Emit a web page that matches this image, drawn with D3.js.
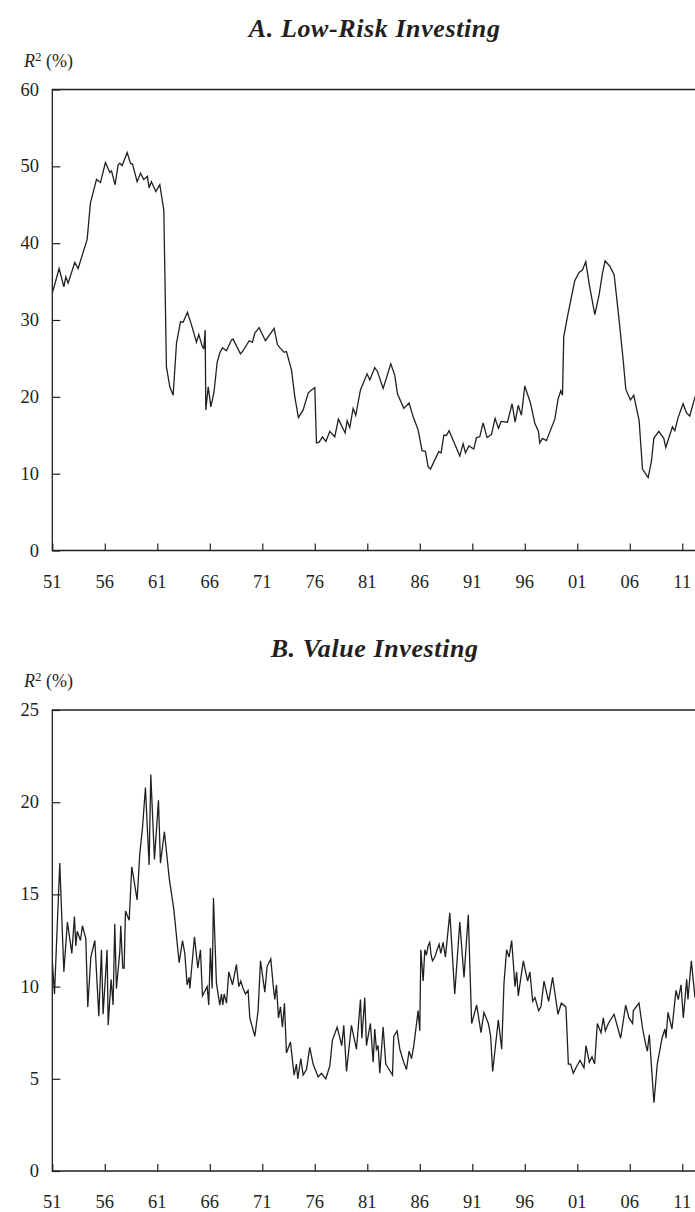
<!DOCTYPE html>
<html>
<head>
<meta charset="utf-8">
<script src="https://cdn.jsdelivr.net/npm/d3@7"></script>
<style>
  html, body { margin: 0; padding: 0; background: #fff; }
  svg { display: block; }
  text { font-family: "Liberation Serif", "DejaVu Serif", serif; fill: #231f20; }
</style>
</head>
<body>
<svg id="chart" width="695" height="1212"></svg>
<script>
// Rolling R² of each strategy's returns, by year (decimal years)
const xTickYears = [1951, 1956, 1961, 1966, 1971, 1976, 1981, 1986, 1991, 1996, 2001, 2006, 2011];

const lowRiskYears = [
  1951.0, 1951.65, 1952.1, 1952.29, 1952.51, 1953.14, 1953.46, 1954.32, 1954.63, 1955.21,
  1955.59, 1956.06, 1956.48, 1956.64, 1956.98, 1957.27, 1957.43, 1957.65, 1958.13, 1958.44,
  1958.64, 1959.08, 1959.40, 1959.71, 1960.06, 1960.22, 1960.44, 1960.86, 1961.24, 1961.62,
  1961.87, 1962.19, 1962.51, 1962.83, 1963.21, 1963.46, 1963.87, 1964.25, 1964.73, 1964.95,
  1965.30, 1965.43, 1965.56, 1965.62, 1965.85, 1966.10, 1966.40, 1966.70, 1966.95, 1967.21,
  1967.59, 1968.06, 1968.22, 1968.92, 1969.17, 1969.75, 1970.06, 1970.29, 1970.70, 1971.30,
  1972.13, 1972.44, 1972.73, 1973.08, 1973.30, 1973.78, 1974.10, 1974.44, 1974.89, 1975.37,
  1975.68, 1976.00, 1976.16, 1976.41, 1976.73, 1977.05, 1977.43, 1977.90, 1978.25, 1978.89,
  1979.08, 1979.33, 1979.65, 1979.90, 1980.35, 1980.98, 1981.24, 1981.71, 1981.97, 1982.51,
  1983.24, 1983.62, 1983.87, 1984.48, 1984.98, 1985.37, 1985.84, 1986.22, 1986.54, 1986.79,
  1987.02, 1987.81, 1988.03, 1988.29, 1988.54, 1988.79, 1989.81, 1990.13, 1990.35, 1990.67,
  1991.14, 1991.40, 1991.71, 1992.03, 1992.41, 1992.83, 1993.17, 1993.49, 1993.75, 1994.35,
  1994.79, 1995.08, 1995.37, 1995.68, 1996.00, 1996.54, 1996.95, 1997.30, 1997.43, 1997.68,
  1998.06, 1998.86, 1999.17, 1999.43, 1999.59, 1999.71, 2000.13, 2000.76, 2001.17, 2001.49,
  2001.81, 2002.13, 2002.67, 2003.08, 2003.40, 2003.65, 2004.10, 2004.51, 2004.95, 2005.37,
  2005.62, 2006.06, 2006.38, 2006.89, 2007.21, 2007.75, 2008.06, 2008.29, 2008.76, 2009.24,
  2009.43, 2010.06, 2010.29, 2010.60, 2011.08, 2011.40, 2011.71, 2012.24
];
const lowRiskR2 = [
  33.5, 36.7, 34.3, 35.6, 34.8, 37.5, 36.7, 40.5, 45.2, 48.3,
  47.9, 50.5, 49.2, 49.4, 47.6, 50.2, 50.4, 50.1, 51.8, 50.4,
  50.3, 48.0, 49.1, 48.3, 48.7, 47.2, 48.0, 46.7, 47.6, 44.3,
  23.9, 21.3, 20.2, 27.0, 29.8, 29.7, 31.0, 29.4, 27.1, 28.1,
  26.5, 26.3, 28.7, 18.3, 21.3, 18.7, 20.6, 24.5, 25.7, 26.4,
  26.0, 27.4, 27.5, 25.6, 26.0, 27.3, 27.1, 28.3, 29.0, 27.3,
  28.9, 26.8, 26.3, 25.8, 25.9, 23.5, 20.0, 17.3, 18.3, 20.5,
  20.9, 21.2, 14.0, 14.1, 14.8, 14.2, 15.5, 14.8, 17.1, 15.3,
  16.9, 16.0, 18.5, 17.6, 20.9, 23.0, 22.2, 23.8, 23.3, 21.1,
  24.3, 22.8, 20.4, 18.5, 19.2, 17.4, 15.7, 13.0, 12.9, 10.9,
  10.6, 12.9, 12.7, 15.0, 15.0, 15.6, 12.3, 13.9, 12.7, 13.6,
  13.2, 14.7, 14.8, 16.6, 14.7, 15.1, 17.2, 15.9, 16.8, 16.7,
  19.1, 16.7, 18.9, 17.6, 21.4, 19.2, 16.6, 15.5, 14.0, 14.6,
  14.3, 17.1, 19.7, 20.8, 20.2, 27.8, 30.9, 35.1, 36.2, 36.5,
  37.6, 34.7, 30.7, 33.3, 36.1, 37.7, 37.0, 35.9, 30.4, 24.8,
  21.0, 19.6, 20.2, 16.9, 10.6, 9.5, 11.6, 14.6, 15.5, 14.6,
  13.4, 16.1, 15.6, 17.3, 19.1, 17.9, 17.5, 20.1
];

const valueYears = [
  1951.0, 1951.21, 1951.71, 1952.10, 1952.44, 1952.86, 1953.11, 1953.24, 1953.37, 1953.68,
  1953.87, 1954.19, 1954.38, 1954.67, 1955.05, 1955.43, 1955.68, 1955.84, 1956.22, 1956.32,
  1956.60, 1956.79, 1956.95, 1957.11, 1957.43, 1957.52, 1957.71, 1957.84, 1957.97, 1958.32,
  1958.57, 1959.08, 1959.33, 1959.59, 1959.87, 1960.22, 1960.38, 1960.73, 1961.11, 1961.30,
  1961.68, 1962.13, 1962.57, 1963.08, 1963.40, 1963.62, 1963.84, 1964.03, 1964.10, 1964.54,
  1964.86, 1965.11, 1965.30, 1965.75, 1965.90, 1966.06, 1966.22, 1966.35, 1966.63, 1966.95,
  1967.11, 1967.24, 1967.37, 1967.59, 1967.81, 1968.16, 1968.54, 1968.76, 1968.95, 1969.17,
  1969.40, 1969.65, 1969.81, 1970.29, 1970.60, 1970.83, 1971.24, 1971.46, 1971.81, 1972.03,
  1972.19, 1972.35, 1972.54, 1972.73, 1972.92, 1973.11, 1973.30, 1973.68, 1974.03, 1974.25,
  1974.38, 1974.67, 1974.89, 1975.21, 1975.52, 1975.84, 1976.32, 1976.63, 1977.05, 1977.43,
  1977.68, 1978.13, 1978.57, 1978.76, 1979.02, 1979.49, 1979.97, 1980.35, 1980.48, 1980.76,
  1980.92, 1981.30, 1981.56, 1981.71, 1981.87, 1982.03, 1982.19, 1982.51, 1982.76, 1982.98,
  1983.40, 1983.52, 1983.84, 1984.10, 1984.41, 1984.73, 1984.98, 1985.21, 1985.43, 1985.84,
  1986.00, 1986.10, 1986.32, 1986.48, 1986.63, 1986.79, 1986.95, 1987.08, 1987.21, 1987.43,
  1987.65, 1987.84, 1988.00, 1988.22, 1988.44, 1988.86, 1989.33, 1989.81, 1990.21, 1990.62,
  1990.94, 1991.42, 1991.83, 1992.11, 1992.53, 1992.75, 1992.94, 1993.48, 1993.80, 1994.02,
  1994.27, 1994.50, 1994.75, 1995.07, 1995.22, 1995.38, 1995.86, 1996.27, 1996.49, 1996.75,
  1996.97, 1997.32, 1997.54, 1997.83, 1998.27, 1998.65, 1999.16, 1999.48, 1999.92, 2000.15,
  2000.37, 2000.62, 2000.87, 2001.26, 2001.64, 2001.83, 2002.15, 2002.40, 2002.65, 2002.91,
  2003.26, 2003.48, 2003.67, 2003.96, 2004.50, 2005.13, 2005.61, 2005.92, 2006.27, 2006.34,
  2006.88, 2007.23, 2007.54, 2007.67, 2007.86, 2008.30, 2008.62, 2009.07, 2009.35, 2009.45,
  2009.64, 2010.02, 2010.40, 2010.62, 2010.88, 2011.10, 2011.42, 2011.54, 2011.86, 2012.21
];
const valueR2 = [
  11.4, 9.6, 16.7, 10.8, 13.5, 11.8, 13.8, 12.2, 13.0, 12.5,
  13.3, 12.6, 8.9, 11.6, 12.5, 8.4, 12.0, 8.5, 12.0, 7.9,
  10.4, 9.0, 13.4, 9.9, 11.9, 13.3, 11.0, 11.0, 14.1, 13.6,
  16.5, 14.7, 17.2, 18.6, 20.8, 16.6, 21.5, 16.9, 20.1, 16.7,
  18.4, 15.9, 14.2, 11.3, 12.5, 11.8, 10.1, 10.5, 9.9, 12.7,
  11.0, 12.0, 9.5, 10.0, 9.0, 12.1, 9.9, 14.8, 10.2, 9.0,
  9.6, 9.0, 9.6, 9.1, 10.8, 10.1, 11.2, 10.0, 10.3, 9.9,
  9.6, 9.8, 8.3, 7.3, 8.7, 11.4, 9.7, 11.1, 11.5, 10.1,
  9.3, 10.1, 8.3, 8.9, 7.8, 9.1, 6.4, 7.0, 5.2, 5.8,
  5.0, 6.1, 5.2, 5.5, 6.7, 5.8, 5.1, 5.3, 5.0, 5.7,
  7.1, 7.8, 6.8, 7.9, 5.4, 7.9, 6.6, 9.3, 7.2, 9.4,
  6.8, 8.0, 5.9, 7.7, 6.6, 6.8, 5.3, 7.8, 5.8, 5.6,
  5.2, 7.3, 7.6, 6.6, 6.0, 5.5, 6.5, 6.1, 6.8, 8.7,
  7.6, 12.0, 10.3, 12.0, 11.7, 12.2, 12.4, 11.7, 11.4, 11.6,
  12.0, 12.3, 11.8, 12.4, 11.6, 14.0, 9.6, 13.5, 10.5, 13.9,
  8.0, 9.0, 7.5, 8.6, 8.0, 7.3, 5.4, 8.2, 6.6, 10.2,
  12.0, 11.6, 12.5, 10.0, 10.8, 9.5, 11.4, 10.3, 10.8, 9.2,
  9.4, 8.7, 8.9, 10.3, 9.2, 10.5, 8.5, 9.1, 8.9, 5.8,
  5.8, 5.3, 5.6, 6.0, 5.6, 6.8, 5.9, 6.2, 5.8, 8.0,
  7.5, 8.3, 7.6, 8.0, 8.5, 7.2, 9.0, 8.3, 8.0, 8.7,
  9.1, 7.7, 6.8, 6.5, 7.4, 3.7, 5.8, 7.2, 7.7, 7.2,
  8.6, 7.7, 9.8, 9.3, 10.1, 8.3, 10.4, 9.3, 11.4, 9.4
];

const lowRiskTicks = [0, 10, 20, 30, 40, 50, 60];
const valueTicks = [0, 5, 10, 15, 20, 25];

const svg = d3.select("#chart");
const W = 695;
const plotLeft = 52.3;
const plotRight = 695.3;

const x = d3.scaleLinear().domain([1951, 2012.24]).range([plotLeft, plotRight]);

function drawPanel(opts) {
  const g = svg.append("g");
  const top = opts.top, bottom = opts.bottom;
  const y = d3.scaleLinear().domain([0, opts.yMax]).range([bottom, top]);

  // panel title
  g.append("text")
    .attr("x", (plotLeft + W) / 2 + 1)
    .attr("y", top - 53)
    .attr("text-anchor", "middle")
    .style("font-size", "26px")
    .style("letter-spacing", "0.6px")
    .style("font-weight", "bold")
    .style("font-style", "italic")
    .text(opts.title);

  // axis unit label: R² (%)
  const lab = g.append("text")
    .attr("x", 24)
    .attr("y", top - 23)
    .style("font-size", "18px");
  lab.append("tspan").style("font-style", "italic").text("R");
  lab.append("tspan").attr("dy", -6).style("font-size", "13px").text("2");
  lab.append("tspan").attr("dy", 6).text(" (%)");

  const clipId = "clip-" + opts.id;
  svg.append("clipPath").attr("id", clipId)
    .append("rect").attr("x", plotLeft).attr("y", top - 5)
    .attr("width", W - plotLeft).attr("height", bottom - top + 10);

  // data line
  const line = d3.line().x(d => x(d[0])).y(d => y(d[1]));
  const pts = opts.years.map((yr, i) => [yr, opts.values[i]]);
  g.append("path")
    .datum(pts)
    .attr("clip-path", `url(#${clipId})`)
    .attr("fill", "none")
    .attr("stroke", "#231f20")
    .attr("stroke-width", 1.3)
    .attr("stroke-linejoin", "miter")
    .attr("d", line);

  // y axis (ticks point into the plot)
  const yAxis = d3.axisRight(y).tickValues(opts.yTicks).tickSize(8).tickFormat("");
  const ya = g.append("g").attr("transform", `translate(${plotLeft},0)`).call(yAxis);
  ya.select(".domain").remove();
  ya.selectAll("line").attr("stroke", "#231f20").attr("stroke-width", 1.2);

  g.selectAll(".ylab").data(opts.yTicks).enter().append("text")
    .attr("x", 39)
    .attr("y", d => y(d) + 6)
    .attr("text-anchor", "end")
    .style("font-size", "18.5px")
    .text(d => d);

  // x axis (ticks point upward)
  const xAxis = d3.axisTop(x).tickValues(xTickYears).tickSize(7).tickFormat("");
  const xa = g.append("g").attr("transform", `translate(0,${bottom})`).call(xAxis);
  xa.select(".domain").remove();
  xa.selectAll("line").attr("stroke", "#231f20").attr("stroke-width", 1.2);

  g.selectAll(".xlab").data(xTickYears).enter().append("text")
    .attr("x", d => x(d))
    .attr("y", bottom + 37)
    .attr("text-anchor", "middle")
    .style("font-size", "18.5px")
    .text(d => String(d % 100).padStart(2, "0"));

  // frame: left, top and bottom rules
  g.append("path")
    .attr("d", `M${W + 2},${top}H${plotLeft}V${bottom}H${W + 2}`)
    .attr("fill", "none")
    .attr("stroke", "#231f20")
    .attr("stroke-width", 1.3);
}

drawPanel({ id: "a", title: "A. Low-Risk Investing", top: 89.5, bottom: 550.5, yMax: 60,
  yTicks: lowRiskTicks, years: lowRiskYears, values: lowRiskR2 });
drawPanel({ id: "b", title: "B. Value Investing", top: 710, bottom: 1171, yMax: 25,
  yTicks: valueTicks, years: valueYears, values: valueR2 });
</script>
</body>
</html>
